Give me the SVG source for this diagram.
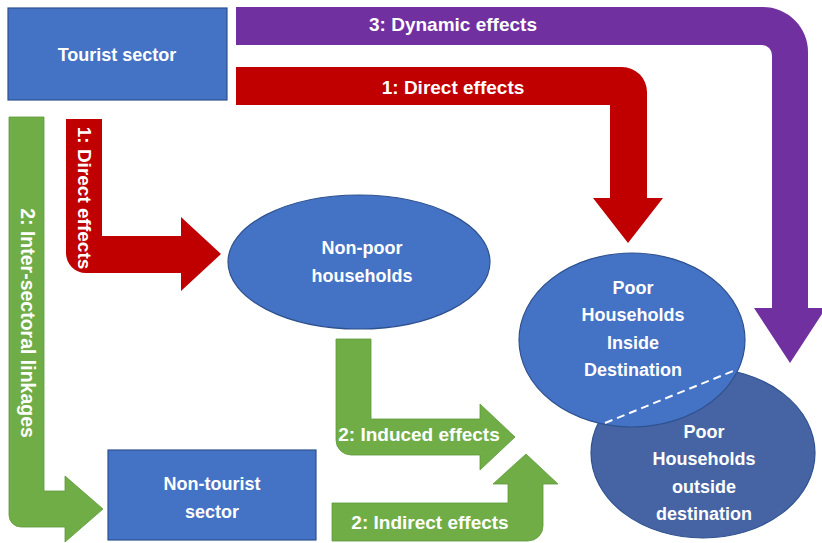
<svg xmlns="http://www.w3.org/2000/svg" width="822" height="543" viewBox="0 0 822 543">
<style>
.node{fill:#4472C4;stroke:#2F528F;stroke-width:1.2}
.dark{fill:#4664A4;stroke:#2F528F;stroke-width:1.2}
.lbl{font-family:"Liberation Sans",Arial,sans-serif;font-weight:bold;fill:#fff;text-anchor:middle}
.n{font-size:18px}
.a{font-size:19px}
.red{fill:#C00000}
.purple{fill:#7030A0}
.green{fill:#70AD47;stroke:#5E9A3A;stroke-width:0.8}
</style>
<rect width="822" height="543" fill="#fff"/>
<g id="connectors">
  <g id="dynamic">
    <path class="purple" d="M236,7 H763 A45,45 0 0 1 808,52 V308 H826 L790,363 L754,308 H772 V55 A10,10 0 0 0 762,45 H236 Z"/>
    <text class="lbl a" x="453" y="31">3: Dynamic effects</text>
  </g>
  <g id="direct-top">
    <path class="red" d="M236,67 H622 A25,25 0 0 1 647,92 V198 H663 L628,243 L593,198 H610 V105 H236 Z"/>
    <text class="lbl a" x="453" y="94">1: Direct effects</text>
  </g>
  <g id="direct-left">
    <path class="red" d="M66,119 H102 V236 H181 V217 L221,254 L181,291 V273 H86 A20,20 0 0 1 66,253 Z"/>
    <text class="lbl a" transform="translate(84,198) rotate(90)" x="0" y="6.5">1: Direct effects</text>
  </g>
  <g id="intersectoral">
    <path class="green" d="M9,117 H44 V491 H65 V476 L103,509 L65,542 V527 H21 A12,12 0 0 1 9,515 Z"/>
    <text class="lbl a" transform="translate(27,323) rotate(90)" x="0" y="6.5" style="font-size:19.5px">2: Inter-sectoral linkages</text>
  </g>
  <g id="induced">
    <path class="green" d="M336,339 H371 V419 H480 V404 L515,437 L480,470 V455 H351 A15,15 0 0 1 336,440 Z"/>
    <text class="lbl a" x="419" y="441">2: Induced effects</text>
  </g>
  <g id="indirect">
    <path class="green" d="M332,503 H508 V484 H493 L526,454 L558,484 H543 V526 A15,15 0 0 1 528,541 H332 Z"/>
    <text class="lbl a" x="430" y="529">2: Indirect effects</text>
  </g>
</g>
<g id="tourist-sector">
  <rect class="node" x="8" y="8" width="219" height="92"/>
  <text class="lbl n" x="117" y="60.5">Tourist sector</text>
</g>
<g id="non-tourist-sector">
  <rect class="node" x="108" y="450" width="208" height="90"/>
  <text class="lbl n" x="212" y="490">Non-tourist</text>
  <text class="lbl n" x="212" y="517.5">sector</text>
</g>
<g id="non-poor">
  <ellipse class="node" cx="359" cy="262" rx="131" ry="67"/>
  <text class="lbl n" x="362" y="253.5">Non-poor</text>
  <text class="lbl n" x="362" y="281.5">households</text>
</g>
<g id="poor-outside">
  <ellipse class="dark" cx="703" cy="453" rx="112" ry="85"/>
</g>
<g id="poor-inside">
  <ellipse class="node" cx="632" cy="340" rx="113" ry="87"/>
  <text class="lbl n" x="633" y="293.5">Poor</text>
  <text class="lbl n" x="633" y="320.5">Households</text>
  <text class="lbl n" x="633" y="348.5">Inside</text>
  <text class="lbl n" x="633" y="375.5">Destination</text>
</g>
<g id="divider">
  <line x1="605" y1="423" x2="733" y2="371" stroke="#fff" stroke-width="2" stroke-dasharray="8 5"/>
</g>
<g id="poor-outside-label">
  <text class="lbl n" x="704" y="437.5">Poor</text>
  <text class="lbl n" x="704" y="464.5">Households</text>
  <text class="lbl n" x="704" y="492.5">outside</text>
  <text class="lbl n" x="704" y="519.5">destination</text>
</g>
</svg>
